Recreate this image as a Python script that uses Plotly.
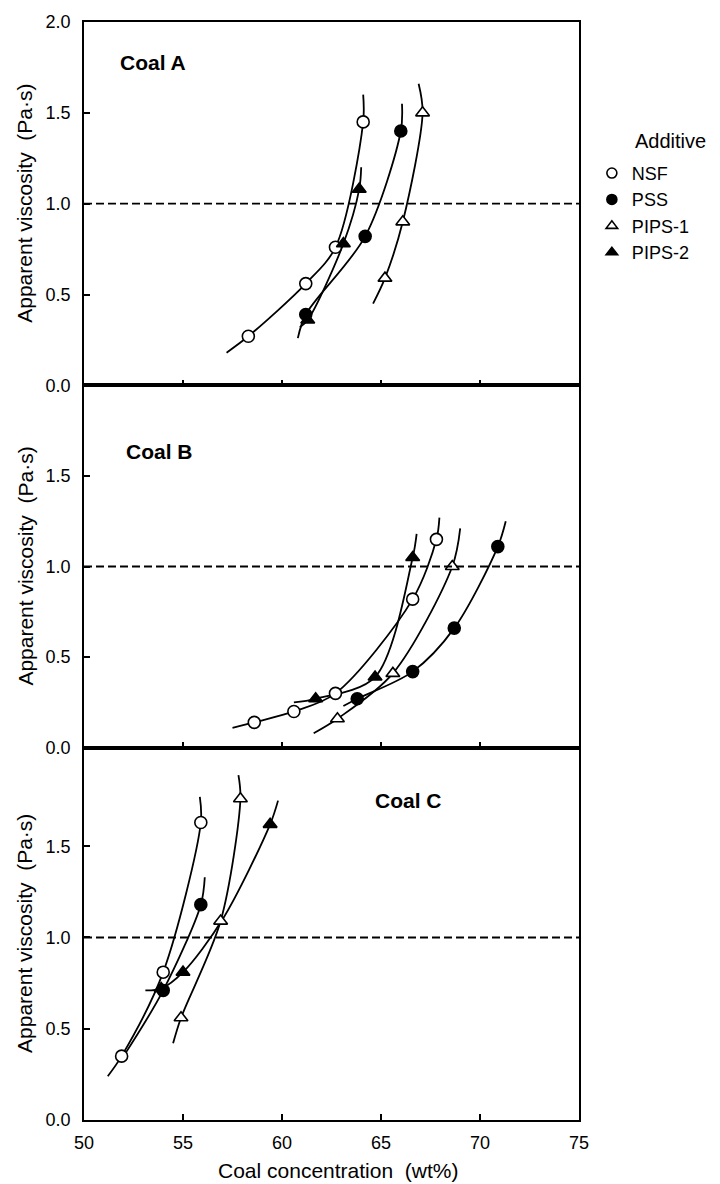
import plotly.graph_objects as go
from plotly.subplots import make_subplots

# ---------------- data ----------------
# Coal A
nsf_a_x = [58.3, 61.2, 62.7, 64.1]
nsf_a_y = [0.27, 0.56, 0.76, 1.45]
pss_a_x = [61.2, 64.2, 66.0]
pss_a_y = [0.39, 0.82, 1.40]
pips1_a_x = [65.2, 66.1, 67.1]
pips1_a_y = [0.59, 0.90, 1.50]
pips2_a_x = [61.3, 63.1, 63.9]
pips2_a_y = [0.36, 0.78, 1.08]
# fitted curves (Coal A)
nsf_a_cx = [57.2, 58.3, 61.2, 62.7, 64.1, 64.1]
nsf_a_cy = [0.18, 0.27, 0.56, 0.76, 1.45, 1.60]
pss_a_cx = [60.8, 61.2, 64.2, 66.0, 66.06]
pss_a_cy = [0.26, 0.39, 0.82, 1.40, 1.55]
pips1_a_cx = [64.6, 65.2, 66.1, 67.1, 66.9]
pips1_a_cy = [0.45, 0.59, 0.90, 1.50, 1.66]
pips2_a_cx = [60.9, 61.3, 63.1, 63.9, 64.0]
pips2_a_cy = [0.32, 0.36, 0.78, 1.08, 1.20]

# Coal B
nsf_b_x = [58.6, 60.6, 62.7, 66.6, 67.8]
nsf_b_y = [0.14, 0.20, 0.30, 0.82, 1.15]
pss_b_x = [63.8, 66.6, 68.7, 70.9]
pss_b_y = [0.27, 0.42, 0.66, 1.11]
pips1_b_x = [62.8, 65.6, 68.6]
pips1_b_y = [0.16, 0.41, 1.00]
pips2_b_x = [61.7, 64.7, 66.6]
pips2_b_y = [0.27, 0.39, 1.05]
nsf_b_cx = [57.5, 58.6, 60.6, 62.7, 66.6, 67.8, 67.95]
nsf_b_cy = [0.11, 0.14, 0.20, 0.30, 0.82, 1.15, 1.27]
pss_b_cx = [63.1, 63.8, 66.6, 68.7, 70.9, 71.3]
pss_b_cy = [0.23, 0.27, 0.42, 0.66, 1.11, 1.25]
pips1_b_cx = [61.6, 62.8, 65.6, 68.6, 69.0]
pips1_b_cy = [0.08, 0.16, 0.41, 1.00, 1.21]
pips2_b_cx = [60.6, 61.7, 64.7, 66.6, 66.8]
pips2_b_cy = [0.25, 0.27, 0.39, 1.05, 1.18]

# Coal C
nsf_c_x = [51.9, 54.0, 55.9]
nsf_c_y = [0.35, 0.81, 1.63]
pss_c_x = [54.0, 55.9]
pss_c_y = [0.71, 1.18]
pips1_c_x = [54.9, 56.9, 57.9]
pips1_c_y = [0.56, 1.09, 1.76]
pips2_c_x = [53.9, 55.0, 59.4]
pips2_c_y = [0.72, 0.81, 1.62]
nsf_c_cx = [51.2, 51.9, 54.0, 55.9, 55.85]
nsf_c_cy = [0.24, 0.35, 0.81, 1.63, 1.77]
pss_c_cx = [52.0, 54.0, 55.9, 56.1]
pss_c_cy = [0.35, 0.71, 1.18, 1.33]
pips1_c_cx = [54.5, 54.9, 56.9, 57.9, 57.8]
pips1_c_cy = [0.42, 0.56, 1.09, 1.76, 1.89]
pips2_c_cx = [53.1, 53.9, 55.0, 57.0, 59.4, 59.8]
pips2_c_cy = [0.71, 0.72, 0.81, 1.10, 1.62, 1.75]

panel_names = ["Coal A", "Coal B", "Coal C"]
additives = ["NSF", "PSS", "PIPS-1", "PIPS-2"]
x_ticks = [50, 55, 60, 65, 70, 75]
ref_viscosity = 1.0

# ---------------- styling ----------------
FONT = "Liberation Sans, Arial, sans-serif"
styles = {
    "NSF": dict(symbol="circle", color="white"),
    "PSS": dict(symbol="circle", color="black"),
    "PIPS-1": dict(symbol="triangle-up", color="white"),
    "PIPS-2": dict(symbol="triangle-up", color="black"),
}

panels = [
    {"pts": [(nsf_a_x, nsf_a_y), (pss_a_x, pss_a_y), (pips1_a_x, pips1_a_y), (pips2_a_x, pips2_a_y)],
     "crv": [(nsf_a_cx, nsf_a_cy), (pss_a_cx, pss_a_cy), (pips1_a_cx, pips1_a_cy), (pips2_a_cx, pips2_a_cy)]},
    {"pts": [(nsf_b_x, nsf_b_y), (pss_b_x, pss_b_y), (pips1_b_x, pips1_b_y), (pips2_b_x, pips2_b_y)],
     "crv": [(nsf_b_cx, nsf_b_cy), (pss_b_cx, pss_b_cy), (pips1_b_cx, pips1_b_cy), (pips2_b_cx, pips2_b_cy)]},
    {"pts": [(nsf_c_x, nsf_c_y), (pss_c_x, pss_c_y), (pips1_c_x, pips1_c_y), (pips2_c_x, pips2_c_y)],
     "crv": [(nsf_c_cx, nsf_c_cy), (pss_c_cx, pss_c_cy), (pips1_c_cx, pips1_c_cy), (pips2_c_cx, pips2_c_cy)]},
]

heights = [365, 364, 374]
fig = make_subplots(rows=3, cols=1, shared_xaxes=True, vertical_spacing=0,
                    row_heights=heights)

for r, p in enumerate(panels, start=1):
    for name, (cx, cy) in zip(additives, p["crv"]):
        fig.add_trace(go.Scatter(x=cx, y=cy, mode="lines", line=dict(color="black", width=1.8, shape="spline", smoothing=0.9),
                                 showlegend=False, hoverinfo="skip"), row=r, col=1)
    for name, (px, py) in zip(additives, p["pts"]):
        st = styles[name]
        fig.add_trace(go.Scatter(x=px, y=py, mode="markers", name=name, showlegend=False,
                                 marker=dict(symbol=st["symbol"], size=12, color=st["color"],
                                             line=dict(color="black", width=1.6))), row=r, col=1)
    fig.add_hline(y=ref_viscosity, line=dict(color="black", width=1.8, dash="8px,4px"), row=r, col=1)

# legend entries
for name in additives:
    st = styles[name]
    fig.add_trace(go.Scatter(x=[None], y=[None], mode="markers", name=name,
                             marker=dict(symbol=st["symbol"], size=10, color=st["color"],
                                         line=dict(color="black", width=1.6))), row=1, col=1)

axis_common = dict(showline=True, linecolor="black", linewidth=1.6, mirror=True,
                   ticks="inside", ticklen=6, tickwidth=1.5, tickcolor="black",
                   showgrid=False, zeroline=False,
                   tickfont=dict(family=FONT, size=18, color="black"))

for r in range(1, 4):
    fig.update_xaxes(range=[50, 75], tickvals=x_ticks, **axis_common, row=r, col=1)
fig.update_xaxes(showticklabels=True, ticklabelstandoff=6, row=3, col=1)

fig.update_yaxes(range=[0, 2.0], tickvals=[0, 0.5, 1.0, 1.5, 2.0], ticktext=["0.0", "0.5", "1.0", "1.5", "2.0"],
                 ticklabelstandoff=8, **axis_common, row=1, col=1)
fig.update_yaxes(range=[0, 2.0], tickvals=[0, 0.5, 1.0, 1.5], ticktext=["0.0", "0.5", "1.0", "1.5"],
                 ticklabelstandoff=8, **axis_common, row=2, col=1)
fig.update_yaxes(range=[0, 2.04], tickvals=[0, 0.5, 1.0, 1.5], ticktext=["0.0", "0.5", "1.0", "1.5"],
                 ticklabelstandoff=8, **axis_common, row=3, col=1)

annotations = []
# panel labels
label_pos = [(51.7, 1.775, "x", "y"), (52.0, 1.635, "x2", "y2"), (64.6, 1.75, "x3", "y3")]
for (lx, ly, xr, yr), txt in zip(label_pos, panel_names):
    annotations.append(dict(x=lx, y=ly, xref=xr, yref=yr, text=f"<b>{txt}</b>", showarrow=False,
                            xanchor="left", yanchor="middle", font=dict(family=FONT, size=21, color="black")))

# y axis titles
tot = sum(heights)
bottoms = [heights[2] + heights[1], heights[2], 0]
for h, b in zip(heights, bottoms):
    yc = (b + h / 2) / tot
    annotations.append(dict(x=-0.119, y=yc, xref="paper", yref="paper", text="Apparent viscosity  (Pa·s)",
                            textangle=-90, showarrow=False, xanchor="center", yanchor="middle",
                            font=dict(family=FONT, size=21, color="black")))
# x title
annotations.append(dict(x=0.513, y=-0.046, xref="paper", yref="paper", text="Coal concentration  (wt%)",
                        showarrow=False, xanchor="center", yanchor="middle",
                        font=dict(family=FONT, size=21, color="black")))
# legend title
annotations.append(dict(x=1.109, y=0.892, xref="paper", yref="paper", text="Additive",
                        showarrow=False, xanchor="left", yanchor="middle",
                        font=dict(family=FONT, size=20, color="black")))

fig.update_layout(
    width=720, height=1184,
    margin=dict(l=84, r=141, t=17, b=64),
    paper_bgcolor="white", plot_bgcolor="white",
    annotations=annotations,
    showlegend=True,
    legend=dict(x=1.026, y=0.879, xanchor="left", yanchor="top",
                font=dict(family=FONT, size=18, color="black"),
                itemwidth=30, tracegroupgap=0, bgcolor="rgba(0,0,0,0)"),
)

fig.write_html("out.html")
